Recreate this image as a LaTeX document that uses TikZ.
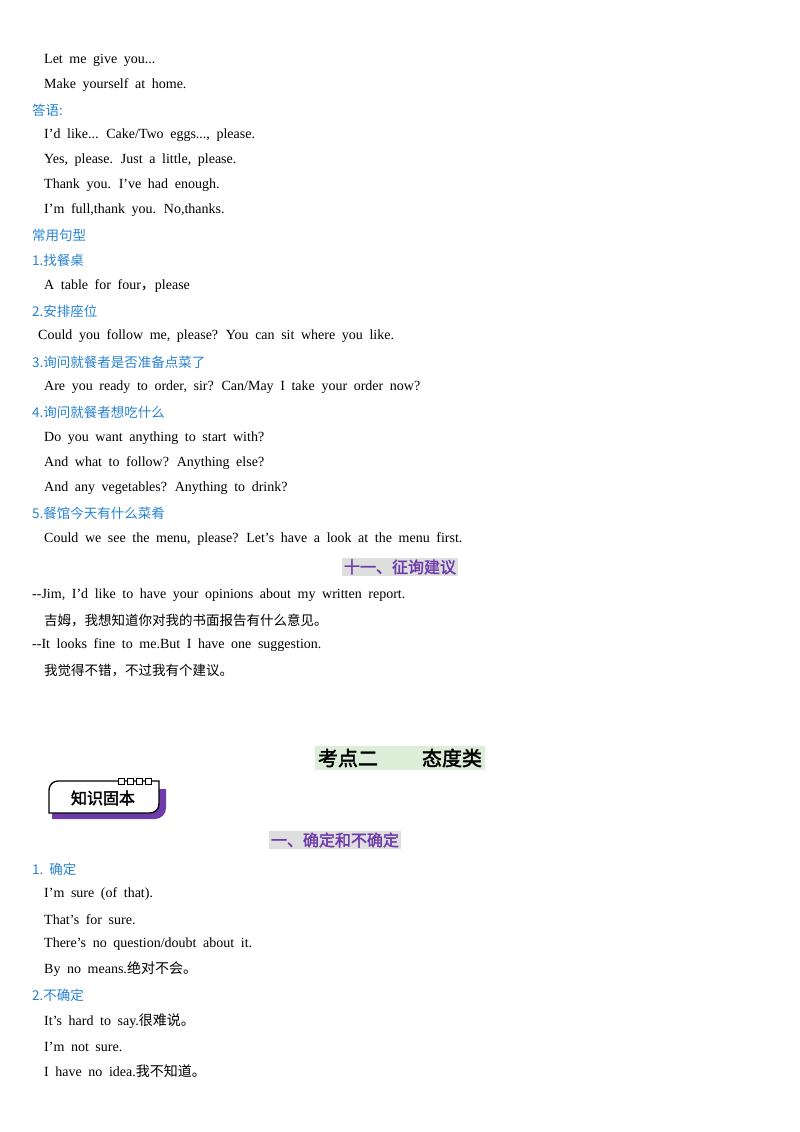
\documentclass[tikz,border=0pt]{standalone}
\usepackage{fontspec}
\setmainfont{Liberation Serif}
\newfontfamily\cjk{Noto Sans CJK SC}
\newfontfamily\cjkb{Noto Sans CJK SC}[FakeBold=2]
\definecolor{hb}{RGB}{40,130,210}
\definecolor{pur}{RGB}{110,60,170}
\definecolor{hbg}{RGB}{222,222,222}
\definecolor{gbg}{RGB}{220,238,215}
\newcommand\wsp{\spaceskip=6.6pt plus 1pt\relax}
\begin{document}
\begin{tikzpicture}[x=1pt,y=-1pt,
 t/.style={anchor=west,inner sep=0pt,yshift=-0.5pt,font=\fontsize{14}{16}\selectfont\wsp},
 h/.style={t,text=hb,font=\fontsize{13.5}{15}\selectfont\cjk},
 ph/.style={anchor=center,inner sep=2pt,fill=hbg,text=pur,font=\fontsize{16}{18}\selectfont\cjkb}]
\useasboundingbox (0,0) rectangle (800,1132);
\node[t] (a1) at (44,60) {Let me give you...};
\node[t] (a2) at (44,85) {Make yourself at home.};
\node[h] (a3) at (32,110) {答语:};
\node[t] (a4) at (44,135) {I'd like... Cake/Two eggs..., please.};
\node[t] (a5) at (44,160) {Yes, please. Just a little, please.};
\node[t] (a6) at (44,185) {Thank you. I've had enough.};
\node[t] (a7) at (44,210) {I'm full,thank you. No,thanks.};
\node[h] (a8) at (32,235) {常用句型};
\node[h] (a9) at (32,260) {1.找餐桌};
\node[t] (a10) at (44,286) {A table for four{\cjk ，}please};
\node[h] (a11) at (32,311) {2.安排座位};
\node[t] (a12) at (38,336) {Could you follow me, please? You can sit where you like.};
\node[h] (a13) at (32,362) {3.询问就餐者是否准备点菜了};
\node[t] (a14) at (44,387) {Are you ready to order, sir? Can/May I take your order now?};
\node[h] (a15) at (32,412) {4.询问就餐者想吃什么};
\node[t] (a16) at (44,438) {Do you want anything to start with?};
\node[t] (a17) at (44,463) {And what to follow? Anything else?};
\node[t] (a18) at (44,488) {And any vegetables? Anything to drink?};
\node[h] (a19) at (32,513) {5.餐馆今天有什么菜肴};
\node[t] (a20) at (44,539) {Could we see the menu, please? Let's have a look at the menu first.};
\node[ph] (p1) at (400,567) {十一、征询建议};
\node[t] (b1) at (32,595) {-{}-Jim, I'd like to have your opinions about my written report.};
\node[t,font=\fontsize{13.5}{15}\selectfont\cjk] (b2) at (44,620) {吉姆，我想知道你对我的书面报告有什么意见。};
\node[t] (b3) at (32,645) {-{}-It looks fine to me.But I have one suggestion.};
\node[t,font=\fontsize{13.5}{15}\selectfont\cjk] (b4) at (44,670) {我觉得不错，不过我有个建议。};
\node[anchor=center,inner sep=3pt,fill=gbg,font=\fontsize{20}{22}\selectfont\cjkb] (k2) at (400,758) {考点二\hspace{2.2em}态度类};
% badge
\fill[pur] (54,789) -- (166,789) -- (166,808) to[out=-90,in=0] (155,819) -- (52,819) -- (52,795) to[out=90,in=180] (58,789) -- cycle;
\draw[line width=1.3pt,fill=white] (58,781) -- (159,781) -- (159,804) to[out=-90,in=0] (150,813) -- (49,813) -- (49,790) to[out=90,in=180] (58,781) -- cycle;
\foreach \i in {0,1,2,3} \draw[line width=1pt,fill=white] (118+\i*9,778) rectangle ++(6,6);
\node[inner sep=0pt,font=\fontsize{16}{18}\selectfont\cjkb] (badge) at (103,798) {知识固本};
\node[ph] (p2) at (335,840) {一、确定和不确定};
\node[h] (c1) at (32,869) {1.\ \ 确定};
\node[t] (c2) at (44,894) {I'm sure (of that).};
\node[t] (c3) at (44,919) {That's for sure.};
\node[t] (c4) at (44,944) {There's no question/doubt about it.};
\node[t] (c5) at (44,969) {By no means.{\cjk 绝对不会。}};
\node[h] (c6) at (32,995) {2.不确定};
\node[t] (c7) at (44,1021) {It's hard to say.{\cjk 很难说。}};
\node[t] (c8) at (44,1046) {I'm not sure.};
\node[t] (c9) at (44,1071) {I have no idea.{\cjk 我不知道。}};
\end{tikzpicture}
\end{document}
